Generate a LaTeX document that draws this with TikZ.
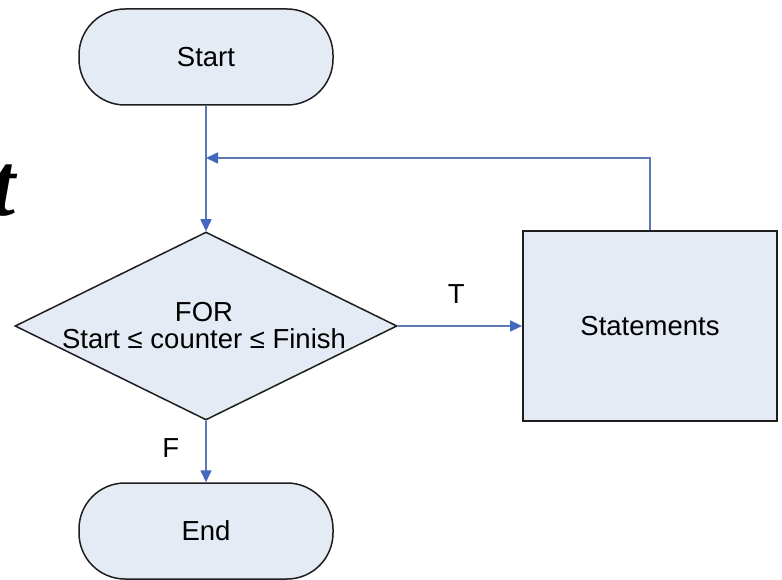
\documentclass[tikz,border=0pt]{standalone}
\usepackage{fontspec}
\setmainfont{Liberation Sans}
\newfontfamily\fragfont{Liberation Serif}
\usetikzlibrary{shapes.geometric,arrows.meta}

\definecolor{boxfill}{HTML}{E5EBF5}
\definecolor{boxline}{HTML}{1E1E1E}
\definecolor{flowline}{HTML}{5B79B4}
\definecolor{flowtip}{HTML}{4468C0}

\tikzset{
  lbl/.style={font=\fontsize{27.5}{27}\selectfont, text=black, inner sep=0pt},
  terminal/.style={draw=boxline, line width=1.5pt, fill=boxfill,
    rounded corners=46pt, minimum width=254pt, minimum height=96pt, inner sep=0pt},
  process/.style={draw=boxline, line width=1.8pt, fill=boxfill,
    minimum width=254pt, minimum height=190pt, inner sep=0pt},
  decision/.style={draw=boxline, line width=1.5pt, fill=boxfill, diamond,
    minimum width=382pt, minimum height=188pt, inner sep=0pt},
  flow/.style={draw=flowline, line width=1.6pt,
    -{Triangle[length=12pt,width=11pt,color=flowtip]}},
}

\begin{document}
\begin{tikzpicture}[x=1pt, y=-1pt]
  \useasboundingbox (0,0) rectangle (782,580);
  \fill[white] (0,0) rectangle (782,580);

  % edge of a large italic letter running off the left side
  \node (frag) [anchor=base east, inner sep=0pt, text=black,
    font=\fragfont\itshape\bfseries\fontsize{90}{90}\selectfont] at (16,216) {t};

  % shapes
  \node (start) [terminal] at (206,57) {};
  \node (startlbl) [lbl] at (start) {Start};

  \node (dec) [decision] at (206,326) {};
  \node (declbl) [lbl, align=center] at (204,326) {FOR\\Start ≤ counter ≤ Finish};

  \node (stmt) [process] at (650,326) {};
  \node (stmtlbl) [lbl] at (stmt) {Statements};

  \node (end) [terminal] at (206,531) {};
  \node (endlbl) [lbl] at (end) {End};

  % loop return point on the main line
  \coordinate (loopin) at (206,158);

  % connectors
  \draw[flow] (start.south) -- (dec.north);
  \draw[flow] (stmt.north) |- (loopin);
  \draw[flow] (dec.east) -- (stmt.west)
    node (tlbl) [lbl, pos=0.47, above=22pt] {T};
  \draw[flow] (dec.south) -- (end.north)
    node (flbl) [lbl, pos=0.45, left=26pt] {F};
\end{tikzpicture}
\end{document}
